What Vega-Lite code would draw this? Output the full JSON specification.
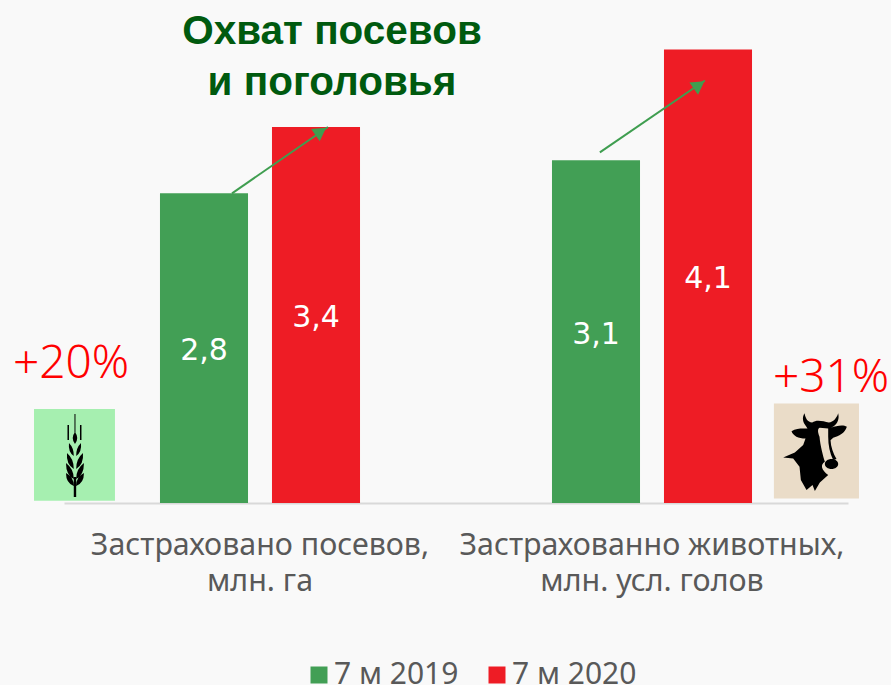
{
"$schema":"https://vega.github.io/schema/vega-lite/v6.json",
"width":891,"height":503,
"autosize":"none",
"padding":{"left":0,"top":0,"right":0,"bottom":182},
"background":"#f9f9f9",
"title":{"text":["Охват посевов","и поголовья"],"font":"Liberation Sans","fontSize":40.5,"fontWeight":"bold","color":"#005a0f","anchor":"start","align":"center","frame":"group","dx":332,"dy":103,"lineHeight":51,"offset":0},
"datasets":{
"bars":[
{"category":"Застраховано посевов,|млн. га","period":"7 м 2019","value":2.8,"label":"2,8"},
{"category":"Застраховано посевов,|млн. га","period":"7 м 2020","value":3.4,"label":"3,4"},
{"category":"Застраховано животных","period":"7 м 2019","value":3.1,"label":"3,1"},
{"category":"Застраховано животных","period":"7 м 2020","value":4.1,"label":"4,1"}
],
"arrows":[
{"x0":0.4286,"x1":0.6735,"y0":2.8,"y1":3.4,"hx":0.655,"hy":3.36},
{"x0":1.367,"x1":1.635,"y0":3.17,"y1":3.82,"hx":1.62,"hy":3.78}
],
"panels":[
{"icon":"wheat","x0":-0.0765,"x1":0.130,"y0":0.02,"y1":0.85,"cx":0.028,"cy":0.435},
{"icon":"cow","x0":1.811,"x1":2.028,"y0":0.04,"y1":0.9,"cx":1.918,"cy":0.46}
],
"growth":[
{"text":"+20%","x":0.018,"y":1.13},
{"text":"+31%","x":1.957,"y":1.0}
]
},
"layer":[
{"data":{"name":"bars"},
 "mark":{"type":"bar"},
 "encoding":{
 "x":{"field":"category","type":"nominal","sort":null,"scale":{"range":[64,848],"paddingInner":0,"paddingOuter":0},
  "axis":{"title":null,"labelExpr":"datum.label == 'Застраховано животных' ? ['Застрахованно животных,','млн. усл. голов'] : ['Застраховано посевов,','млн. га']","labelAngle":0,"labelFont":"Noto Sans","labelFontSize":30.4,"labelColor":"#595959","labelPadding":27,"labelLineHeight":36,"labelLimit":0,"ticks":false,"domainColor":"#d9d9d9","domainWidth":2,"grid":false,"labelBaseline":"top"}},
 "xOffset":{"field":"period","type":"nominal","scale":{"paddingInner":0.214,"paddingOuter":0.857}},
 "y":{"field":"value","type":"quantitative","scale":{"domain":[0,4.548],"nice":false},"axis":null},
 "color":{"field":"period","type":"nominal","scale":{"domain":["7 м 2019","7 м 2020"],"range":["#429f55","#ee1c25"]},
  "legend":{"title":null,"orient":"none","legendX":304,"legendY":660,"direction":"horizontal","columns":2,"symbolType":"square","symbolSize":289,"symbolStrokeWidth":0,"labelFont":"Noto Sans","labelFontSize":30,"labelColor":"#595959","labelLimit":0,"columnPadding":23,"labelOffset":0}}
 }},
{"data":{"name":"bars"},
 "transform":[{"calculate":"datum.value/2","as":"mid"}],
 "mark":{"type":"text","color":"#ffffff","font":"DejaVu Sans","fontSize":30,"baseline":"middle","dy":3},
 "encoding":{
 "x":{"field":"category","type":"nominal","sort":null,"scale":{"range":[64,848],"paddingInner":0,"paddingOuter":0},"axis":null},
 "xOffset":{"field":"period","type":"nominal","scale":{"paddingInner":0.214,"paddingOuter":0.857}},
 "y":{"field":"mid","type":"quantitative","scale":{"domain":[0,4.548],"nice":false},"axis":null},
 "text":{"field":"label"}
 }},
{"data":{"name":"panels"},
 "mark":{"type":"rect"},
 "encoding":{
 "x":{"field":"x0","type":"quantitative","scale":{"domain":[0,2],"range":[64,848],"clamp":false},"axis":null},
 "x2":{"field":"x1"},
 "y":{"field":"y0","type":"quantitative","scale":{"domain":[0,4.548],"nice":false},"axis":null},
 "y2":{"field":"y1"},
 "color":{"field":"icon","type":"nominal","scale":{"domain":["wheat","cow"],"range":["#a6efb0","#eadcc8"]},"legend":null}
 }},
{"data":{"name":"panels"},
 "transform":[{"filter":"datum.icon == 'wheat'"}],
 "mark":{"type":"point","filled":true,"opacity":1,"color":"#000000","size":40000,"shape":"M-.005 -.41L.005 -.41L.005 -.22L-.005 -.22Z M-.075 -.3L-.06 -.3L-.06 -.15L-.075 -.15Z M.05 -.3L.065 -.3L.065 -.15L.05 -.15Z M0 -.23Q.045 -.17 0 -.11Q-.045 -.17 0 -.23Z M-.012 .01Q-.07 -.03 -.06 -.12Q-.01 -.07 -.012 .01Z M.012 .01Q.07 -.03 .06 -.12Q.01 -.07 .012 .01Z M-.012 .14Q-.09 .09 -.08 -.02Q-.01 .04 -.012 .14Z M.012 .14Q.09 .09 .08 -.02Q.01 .04 .012 .14Z M-.012 .24Q-.09 .2 -.09 .08Q-.01 .14 -.012 .24Z M.012 .24Q.09 .2 .09 .08Q.01 .14 .012 .24Z M-.012 .31Q-.09 .28 -.09 .18Q-.01 .22 -.012 .31Z M.012 .31Q.09 .28 .09 .18Q.01 .22 .012 .31Z M-.012 .22L.012 .22L.012 .42L-.012 .42Z"},
 "encoding":{
 "x":{"field":"cx","type":"quantitative","scale":{"domain":[0,2],"range":[64,848],"clamp":false},"axis":null},
 "y":{"field":"cy","type":"quantitative","scale":{"domain":[0,4.548],"nice":false},"axis":null}
 }},
{"data":{"name":"panels"},
 "transform":[{"filter":"datum.icon == 'cow'"}],
 "mark":{"type":"point","filled":true,"opacity":1,"color":"#000000","size":4444,"shape":"M-.73 -.63C-.58 -.73 -.38 -.71 -.25 -.71L-.35 -.86C-.41 -.99 -.39 -1.09 -.34 -1.17C-.31 -1.01 -.25 -.91 -.11 -.89C.02 -.99 .22 -.93 .39 -.89C.52 -.91 .62 -1.01 .67 -1.17C.72 -.96 .62 -.81 .45 -.73C.62 -.79 .82 -.83 .93 -.76C.87 -.56 .69 -.49 .52 -.43L.44 -.36C.45 -.16 .52 .04 .62 .21L.52 .24C.42 .04 .37 -.21 .37 -.46L.37 -.71L.12 -.73C.05 -.71 .05 -.61 .11 -.46C.13 -.21 .22 .14 .27 .29C.12 .39 .17 .54 .37 .69L.12 .91L-.03 1.17L-.1 .99L-.28 1.14L-.45 .84L-.49 .44L-.68 .19L-.98 .16L-.63 .01L-.38 -.21L-.31 -.41C-.53 -.41 -.68 -.49 -.73 -.63Z M.27 .36A.2 .15 0 1 1 .67 .36A.2 .15 0 1 1 .27 .36Z"},
 "encoding":{
 "x":{"field":"cx","type":"quantitative","scale":{"domain":[0,2],"range":[64,848],"clamp":false},"axis":null},
 "y":{"field":"cy","type":"quantitative","scale":{"domain":[0,4.548],"nice":false},"axis":null}
 }},
{"data":{"name":"arrows"},
 "mark":{"type":"rule","color":"#3f9e50","strokeWidth":2},
 "encoding":{
 "x":{"field":"x0","type":"quantitative","scale":{"domain":[0,2],"range":[64,848],"clamp":false},"axis":null},
 "x2":{"field":"x1"},
 "y":{"field":"y0","type":"quantitative","scale":{"domain":[0,4.548],"nice":false},"axis":null},
 "y2":{"field":"y1"}
 }},
{"data":{"name":"arrows"},
 "mark":{"type":"point","shape":"triangle-up","filled":true,"opacity":1,"color":"#3f9e50","size":225,"angle":55},
 "encoding":{
 "x":{"field":"hx","type":"quantitative","scale":{"domain":[0,2],"range":[64,848],"clamp":false},"axis":null},
 "y":{"field":"hy","type":"quantitative","scale":{"domain":[0,4.548],"nice":false},"axis":null}
 }},
{"data":{"name":"growth"},
 "mark":{"type":"text","color":"#ff0000","font":"Noto Sans","fontWeight":300,"fontSize":46,"baseline":"alphabetic","align":"center"},
 "encoding":{
 "x":{"field":"x","type":"quantitative","scale":{"domain":[0,2],"range":[64,848],"clamp":false},"axis":null},
 "y":{"field":"y","type":"quantitative","scale":{"domain":[0,4.548],"nice":false},"axis":null},
 "text":{"field":"text"}
 }}
],
"resolve":{"scale":{"x":"independent","color":"independent"}},
"config":{"view":{"stroke":null}}
}
